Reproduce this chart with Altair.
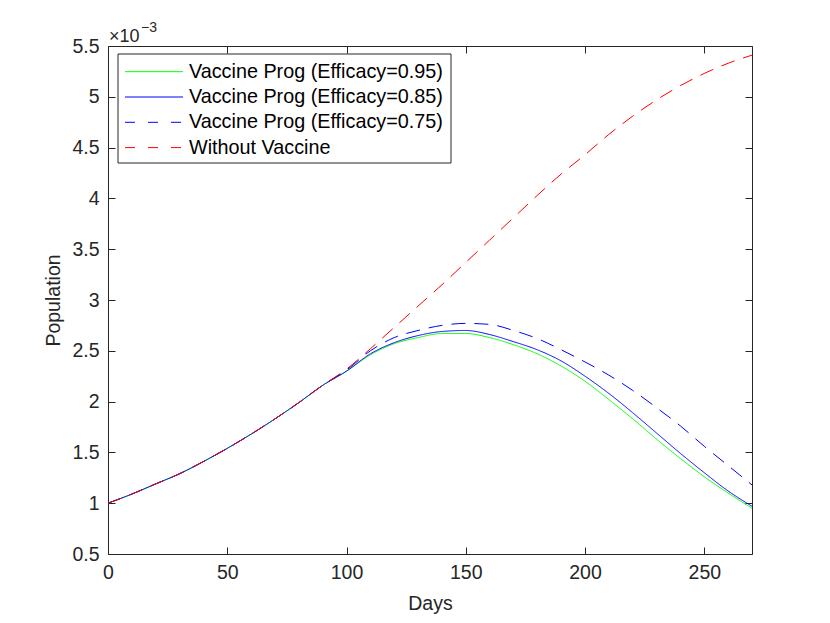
import altair as alt
import pandas as pd

FONT = "Liberation Sans"
AXC = "#262626"

# ---- data (population values in units of 10^-3) ----
days = [0, 10, 20, 30, 40, 50, 60, 70, 80, 90, 100, 110, 120, 130, 140, 150, 160,
        170, 180, 190, 200, 210, 220, 230, 240, 250, 260, 270]
common = [1.00, 1.09, 1.19, 1.29, 1.41, 1.54, 1.68, 1.83, 1.99, 2.16]  # days 0-90
eff95_tail = [2.30, 2.46, 2.57, 2.63, 2.67, 2.67, 2.63, 2.56, 2.47, 2.35, 2.20, 2.02,
              1.83, 1.63, 1.44, 1.26, 1.10, 0.95]
eff85_tail = [2.30, 2.47, 2.58, 2.65, 2.69, 2.70, 2.66, 2.59, 2.51, 2.40, 2.25, 2.08,
              1.89, 1.69, 1.49, 1.30, 1.12, 0.97]
eff75_tail = [2.31, 2.50, 2.63, 2.70, 2.75, 2.77, 2.76, 2.70, 2.62, 2.51, 2.39, 2.26,
              2.11, 1.94, 1.76, 1.56, 1.37, 1.18]
novac_tail = [2.32, 2.52, 2.73, 2.94, 3.15, 3.37, 3.59, 3.81, 4.03, 4.24, 4.43, 4.63,
              4.81, 4.97, 5.11, 5.23, 5.33, 5.41]

names = ["Vaccine Prog (Efficacy=0.95)", "Vaccine Prog (Efficacy=0.85)",
         "Vaccine Prog (Efficacy=0.75)", "Without Vaccine"]
colors = ["#00ff00", "#0000ff", "#0000ff", "#ff0000"]
dashes = [[1, 0], [1, 0], [14, 9], [14, 9]]
x_ticks = [0, 50, 100, 150, 200, 250]
y_ticks = [0.5, 1, 1.5, 2, 2.5, 3, 3.5, 4, 4.5, 5, 5.5]

rows = []
for name, tail in zip(names, [eff95_tail, eff85_tail, eff75_tail, novac_tail]):
    for d, v in zip(days, common + tail):
        rows.append({"day": d, "pop": v, "series": name})
df = pd.DataFrame(rows)

W, H = 644, 508
x_scale = alt.Scale(domain=[0, 270], nice=False, zero=False)
y_scale = alt.Scale(domain=[0.5, 5.5], nice=False, zero=False)

FS = 19.5
AX = dict(labelFont=FONT, labelFontSize=FS, labelColor=AXC, tickColor=AXC,
          tickSize=7, offset=-7, domain=False, grid=False, tickWidth=1,
          labelFlush=False,
          titleFont=FONT, titleFontSize=FS, titleFontWeight="normal", titleColor=AXC)

lines = alt.Chart(df).mark_line(strokeWidth=1, interpolate="monotone").encode(
    x=alt.X("day:Q", scale=x_scale,
            axis=alt.Axis(values=x_ticks, title="Days", labelPadding=9, titlePadding=13, **AX)),
    y=alt.Y("pop:Q", scale=y_scale,
            axis=alt.Axis(values=y_ticks, format=".1~f", title="Population",
                          labelPadding=9, titlePadding=8, **AX)),
    color=alt.Color("series:N", scale=alt.Scale(domain=names, range=colors), legend=None),
    strokeDash=alt.StrokeDash("series:N", scale=alt.Scale(domain=names, range=dashes), legend=None),
)

frame = alt.Chart(df).mark_line(opacity=0).encode(
    x=alt.X("day:Q", scale=x_scale,
            axis=alt.Axis(orient="top", values=x_ticks, labels=False, title=None, **AX)),
    y=alt.Y("pop:Q", scale=y_scale,
            axis=alt.Axis(orient="right", values=y_ticks, labels=False, title=None, **AX)),
)

# exponent label
exp_base = alt.Chart(pd.DataFrame({"t": ["×10"]})).mark_text(
    font=FONT, fontSize=18, align="left", baseline="alphabetic", color=AXC
).encode(x=alt.value(1), y=alt.value(-4), text="t:N")
exp_sup = alt.Chart(pd.DataFrame({"t": ["−3"]})).mark_text(
    font=FONT, fontSize=14, align="left", baseline="alphabetic", color=AXC
).encode(x=alt.value(33), y=alt.value(-14), text="t:N")

# legend (manual, MATLAB style box)
LX0, LY0, LX1, LY1 = 10, 8, 343, 117
legend_layers = [
    alt.Chart(pd.DataFrame({"t": ["box"]})).mark_rect(
        fill="white", stroke=AXC, strokeWidth=1
    ).encode(x=alt.value(LX0), x2=alt.value(LX1), y=alt.value(LY0), y2=alt.value(LY1))
]
for i, (name, col, dsh) in enumerate(zip(names, colors, dashes)):
    yy = 25.7 + i * 25.3
    legend_layers.append(
        alt.Chart(pd.DataFrame({"label": [name]})).mark_rule(
            color=col, strokeWidth=1, strokeDash=([10, 13] if dsh != [1, 0] else [1, 0])
        ).encode(x=alt.value(17), x2=alt.value(75), y=alt.value(yy))
    )
    legend_layers.append(
        alt.Chart(pd.DataFrame({"label": [name]})).mark_text(
            font=FONT, fontSize=19.8, align="left", baseline="middle", color="#000000"
        ).encode(x=alt.value(81), y=alt.value(yy), text="label:N")
    )

chart = alt.layer(lines, frame, exp_base, exp_sup, *legend_layers).resolve_axis(
    x="independent", y="independent"
).properties(
    width=W, height=H, autosize=alt.AutoSizeParams(type="none"),
    padding={"left": 100, "top": 38, "right": 62, "bottom": 60},
    background="white",
).configure_view(stroke=AXC, strokeWidth=1)

chart.save("out.html", embed_options={"renderer": "svg", "actions": False})
